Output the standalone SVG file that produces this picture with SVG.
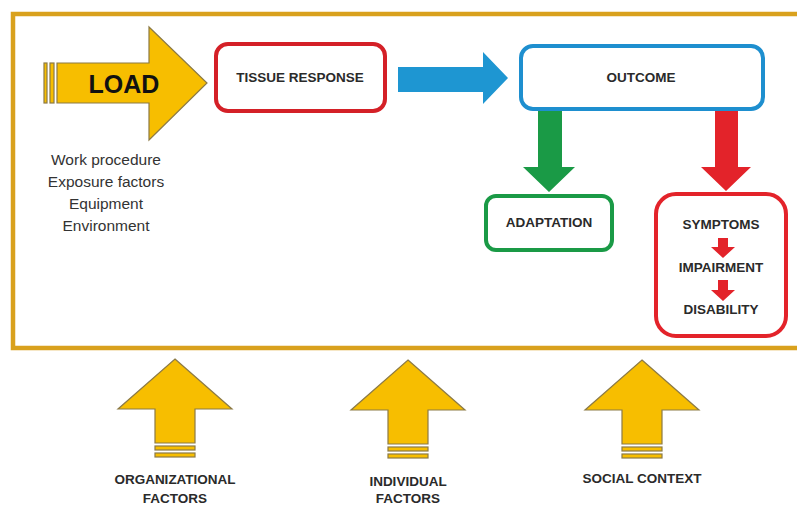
<svg xmlns="http://www.w3.org/2000/svg" width="797" height="506" viewBox="0 0 797 506">
  <style>
    .lbl { font-family: "Liberation Sans", Arial, sans-serif; font-weight: bold; font-size: 13.5px; fill: #2a2a2a; text-anchor: middle; }
    .src { font-family: "Liberation Sans", Arial, sans-serif; font-size: 15.5px; fill: #333; text-anchor: middle; }
    .gold { fill: #F7BE00; stroke: #8c7a45; stroke-width: 1.2; stroke-linejoin: miter; }
    .box { fill: #fff; stroke-width: 4; }
  </style>
  <defs>
    <!-- upward factor arrow, tip at origin -->
    <g id="upArrow">
      <polygon class="gold" points="0,0 57,50 20,50 20,84 -20,84 -20,50 -57,50"/>
      <rect class="gold" x="-20" y="87" width="40" height="4"/>
      <rect class="gold" x="-20" y="94" width="40" height="4"/>
    </g>
  </defs>

  <rect width="797" height="506" fill="#fff"/>

  <!-- outer frame -->
  <path d="M800,14 H13 V348 H800" fill="none" stroke="#D9A11D" stroke-width="4.5"/>

  <g id="load">
    <rect class="gold" x="44" y="63" width="3" height="40"/>
    <rect class="gold" x="50" y="63" width="4" height="40"/>
    <polygon class="gold" points="57,63 149,63 149,27 207,83 149,140 149,103 57,103"/>
    <text x="124" y="93" font-family="Liberation Sans, Arial, sans-serif" font-weight="bold" font-size="25" fill="#111" text-anchor="middle">LOAD</text>
    <text class="src" x="106" y="165">Work procedure</text>
    <text class="src" x="106" y="187">Exposure factors</text>
    <text class="src" x="106" y="209">Equipment</text>
    <text class="src" x="106" y="231">Environment</text>
  </g>

  <g id="tissue-response">
    <rect class="box" x="216" y="44" width="169" height="67" rx="12" stroke="#D42027"/>
    <text class="lbl" x="300" y="82">TISSUE RESPONSE</text>
  </g>

  <g id="outcome">
    <rect class="box" x="521" y="46" width="242" height="63" rx="12" stroke="#1E8FCF"/>
    <text class="lbl" x="641" y="82">OUTCOME</text>
  </g>

  <g id="adaptation">
    <rect class="box" x="486" y="196" width="126" height="54" rx="10" stroke="#1A9A46"/>
    <text class="lbl" x="549" y="227">ADAPTATION</text>
  </g>

  <g id="consequences">
    <rect class="box" x="656" y="194" width="130" height="142" rx="20" stroke="#E3232A"/>
    <text class="lbl" x="721" y="229">SYMPTOMS</text>
    <text class="lbl" x="721" y="272">IMPAIRMENT</text>
    <text class="lbl" x="721" y="314">DISABILITY</text>
    <polygon fill="#E3232A" points="718,238 728,238 728,247 735,247 723,258 711,247 718,247"/>
    <polygon fill="#E3232A" points="718,280 728,280 728,290 735,290 723,301 711,290 718,290"/>
  </g>

  <g id="connectors">
    <polygon fill="#1E96D2" points="398,67 483,67 483,52 508,78 483,104 483,92 398,92"/>
    <polygon fill="#1A9A46" points="538,111 562,111 562,167 575,167 549,192 523,167 538,167"/>
    <polygon fill="#E3232A" points="715,111 738,111 738,167 751,167 726,191 701,167 715,167"/>
  </g>

  <g id="organizational-factors">
    <use href="#upArrow" x="175" y="359"/>
    <text class="lbl" x="175" y="484">ORGANIZATIONAL</text>
    <text class="lbl" x="175" y="503">FACTORS</text>
  </g>

  <g id="individual-factors">
    <use href="#upArrow" x="408" y="360"/>
    <text class="lbl" x="408" y="486">INDIVIDUAL</text>
    <text class="lbl" x="408" y="503">FACTORS</text>
  </g>

  <g id="social-context">
    <use href="#upArrow" x="642" y="360"/>
    <text class="lbl" x="642" y="483">SOCIAL CONTEXT</text>
  </g>
</svg>
